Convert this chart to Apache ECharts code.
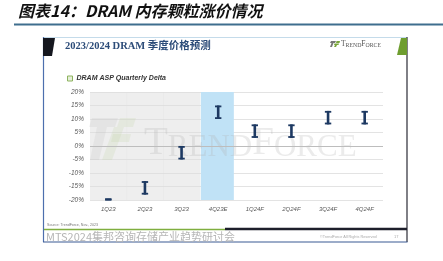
<!DOCTYPE html>
<html>
<head>
<meta charset="utf-8">
<script src="https://cdn.jsdelivr.net/npm/echarts@6/dist/echarts.min.js"></script>
<style>
  html, body { margin: 0; padding: 0; background: #fff; }
  #chart { width: 443px; height: 261px; }
</style>
</head>
<body>
<div id="chart"></div>
<script>
// quarterly DRAM ASP change ranges (%)
const categories = ['1Q23', '2Q23', '3Q23', '4Q23E', '1Q24F', '2Q24F', '3Q24F', '4Q24F'];
const lowValues = [-20, -18, -5, 10, 3, 3, 8, 8];
const highValues = [-19.6, -13, 0, 15, 8, 8, 13, 13];
const yTicks = [-20, -15, -10, -5, 0, 5, 10, 15, 20];

const seriesName = 'DRAM ASP Quarterly Delta';
const markColor = '#1d3962';

const chart = echarts.init(document.getElementById('chart'), null, { renderer: 'canvas' });

// shaded columns: actuals grey, estimate blue, forecasts left white
function renderBand(params, api) {
  const cat = categories[params.dataIndex];
  const bw = api.size([1, 0])[0];
  const cx = api.coord([api.value(0), 0])[0];
  const top = api.coord([api.value(0), yTicks[yTicks.length - 1]])[1];
  const bottom = api.coord([api.value(0), yTicks[0]])[1];
  if (cat.endsWith('F')) return null;
  if (cat.endsWith('E')) {
    return {
      type: 'rect',
      shape: { x: cx - bw / 2 + 1, y: top, width: bw * 0.9, height: bottom - top },
      style: { fill: '#c0e2f6' }
    };
  }
  return {
    type: 'rect',
    shape: { x: cx - bw / 2, y: top, width: bw + 0.5, height: bottom - top },
    style: { fill: 'rgba(222,222,222,0.5)' }
  };
}

// serif "I" shaped range marks
function renderRange(params, api) {
  const x = api.value(0);
  const hi = api.coord([x, api.value(2)]);
  const lo = api.coord([x, api.value(1)]);
  const cap = 3.2;
  const line = (x1, y1, x2, y2, w) => ({
    type: 'line',
    shape: { x1, y1, x2, y2 },
    style: { stroke: markColor, lineWidth: w }
  });
  return {
    type: 'group',
    children: [
      line(hi[0], hi[1], lo[0], lo[1], 2.6),
      line(hi[0] - cap, hi[1] + 0.9, hi[0] + cap, hi[1] + 0.9, 1.8),
      line(lo[0] - cap, lo[1] - 0.9, lo[0] + cap, lo[1] - 0.9, 1.8)
    ]
  };
}

const smallCaps = (b, s) => ({
  b: { fontSize: b, fontFamily: 'Liberation Serif', verticalAlign: 'bottom', lineHeight: b },
  s: { fontSize: s, fontFamily: 'Liberation Serif', verticalAlign: 'bottom', lineHeight: b }
});

const option = {
  backgroundColor: '#fff',
  animation: false,
  grid: { left: 90, right: 60, top: 92, bottom: 61 },
  legend: {
    left: 62,
    top: 70,
    itemWidth: 5,
    itemHeight: 5,
    itemGap: 4,
    data: [{
      name: seriesName,
      icon: 'rect',
      itemStyle: { color: '#e6efd9', borderColor: '#8db35f', borderWidth: 1 }
    }],
    textStyle: {
      fontSize: 7,
      fontStyle: 'italic',
      fontWeight: 'bold',
      color: '#333',
      fontFamily: 'Liberation Sans',
      padding: [0, 0, 0, -1]
    }
  },
  xAxis: {
    type: 'category',
    data: categories,
    axisLine: { show: false },
    axisTick: { show: false },
    axisLabel: {
      margin: 6,
      fontSize: 6,
      fontStyle: 'italic',
      color: '#595959',
      fontFamily: 'Liberation Sans'
    }
  },
  yAxis: {
    type: 'value',
    min: yTicks[0],
    max: yTicks[yTicks.length - 1],
    interval: yTicks[1] - yTicks[0],
    axisLine: { show: false },
    axisTick: { show: false },
    axisLabel: {
      margin: 6,
      fontSize: 6.5,
      fontStyle: 'italic',
      color: '#595959',
      fontFamily: 'Liberation Sans',
      formatter: '{value}%'
    },
    splitLine: { lineStyle: { color: '#e3e3e3', width: 1 } }
  },
  series: [
    {
      type: 'custom',
      name: 'bands',
      z: 1,
      silent: true,
      renderItem: renderBand,
      encode: { x: 0 },
      data: categories.map((c, i) => [i])
    },
    {
      type: 'custom',
      name: seriesName,
      z: 5,
      renderItem: renderRange,
      encode: { x: 0, y: [1, 2] },
      data: categories.map((c, i) => [i, lowValues[i], highValues[i]]),
      markLine: {
        silent: true,
        symbol: 'none',
        label: { show: false },
        lineStyle: { color: '#bdbdbd', width: 1, type: 'solid' },
        data: [{ yAxis: 0 }]
      }
    }
  ],
  graphic: [
    // report caption
    {
      type: 'text', left: 18, top: 3,
      style: {
        text: '图表14：DRAM 内存颗粒涨价情况',
        font: 'italic bold 16px "Noto Sans CJK SC"',
        fill: '#111'
      }
    },
    {
      type: 'line', shape: { x1: 14, y1: 24.5, x2: 443, y2: 24.5 },
      style: { stroke: '#3f6e8e', lineWidth: 2 }
    },
    // slide frame
    { type: 'line', shape: { x1: 43, y1: 37.5, x2: 407, y2: 37.5 }, style: { stroke: '#c4dbea', lineWidth: 1 } },
    { type: 'line', shape: { x1: 43.5, y1: 37, x2: 43.5, y2: 242 }, style: { stroke: '#4d6fae', lineWidth: 1.2 } },
    { type: 'line', shape: { x1: 407, y1: 37, x2: 407, y2: 242 }, style: { stroke: '#2a2a35', lineWidth: 1.2 } },
    { type: 'line', shape: { x1: 43, y1: 242, x2: 407.5, y2: 242 }, style: { stroke: '#3b5a94', lineWidth: 1.2 } },
    {
      type: 'polygon', shape: { points: [[43, 38], [55, 38], [52, 56], [43, 56]] },
      style: { fill: '#15171f' }
    },
    {
      type: 'polygon', shape: { points: [[401, 38], [407, 38], [407, 55], [397, 55]] },
      style: { fill: '#6e9d2f' }
    },
    {
      type: 'text', left: 65, top: 41.5,
      style: {
        text: '2023/2024 DRAM 季度价格预测',
        font: 'bold 10.5px "Liberation Serif", "Noto Sans CJK SC"',
        fill: '#2b4b78'
      }
    },
    // header logo
    { type: 'polygon', shape: { points: [[331, 41], [336, 41], [335, 43], [330, 43]] }, style: { fill: '#777' } },
    { type: 'polygon', shape: { points: [[331.5, 43], [333.5, 43], [332, 47], [330, 47]] }, style: { fill: '#777' } },
    { type: 'polygon', shape: { points: [[336.5, 41], [340, 41], [339.5, 43], [336, 43]] }, style: { fill: '#7aa53d' } },
    { type: 'polygon', shape: { points: [[334.5, 43.5], [339, 43.5], [338.5, 45], [334, 45]] }, style: { fill: '#7aa53d' } },
    { type: 'polygon', shape: { points: [[335, 45], [337, 45], [336, 47], [334, 47]] }, style: { fill: '#7aa53d' } },
    {
      type: 'text', left: 341, top: 40,
      style: { text: '{b|T}{s|REND}{b|F}{s|ORCE}', rich: smallCaps(7.5, 5.8), fill: '#555' }
    },
    // watermark
    {
      type: 'polygon', z: 2, silent: true,
      shape: { points: [[92, 118], [118, 118], [115, 127], [89, 127]] },
      style: { fill: 'rgba(170,170,170,0.14)' }
    },
    {
      type: 'polygon', z: 2, silent: true,
      shape: { points: [[97, 127], [107, 127], [99, 160], [90, 160]] },
      style: { fill: 'rgba(170,170,170,0.14)' }
    },
    {
      type: 'polygon', z: 2, silent: true,
      shape: { points: [[120, 118], [136, 118], [133, 127], [117, 127]] },
      style: { fill: 'rgba(190,210,160,0.2)' }
    },
    {
      type: 'polygon', z: 2, silent: true,
      shape: { points: [[113, 134], [131, 134], [129, 142], [111, 142]] },
      style: { fill: 'rgba(190,210,160,0.2)' }
    },
    {
      type: 'polygon', z: 2, silent: true,
      shape: { points: [[114, 127], [124, 127], [112, 160], [102, 160]] },
      style: { fill: 'rgba(190,210,160,0.2)' }
    },
    {
      type: 'text', z: 2, silent: true, left: 144, top: 124,
      style: { text: '{b|T}{s|REND}{b|F}{s|ORCE}', rich: smallCaps(39, 31), fill: 'rgba(175,175,175,0.25)' }
    },
    // footer
    {
      type: 'text', left: 47, top: 223,
      style: { text: 'Source: TrendForce, Nov., 2023', font: '3.6px "Liberation Sans"', fill: '#777' }
    },
    { type: 'line', shape: { x1: 44, y1: 229.5, x2: 225, y2: 229.5 }, style: { stroke: '#7fae3f', lineWidth: 1.6 } },
    { type: 'line', shape: { x1: 225, y1: 229, x2: 407, y2: 229 }, style: { stroke: '#1d1f2b', lineWidth: 2.5 } },
    {
      type: 'text', left: 46, top: 231,
      style: { text: 'MTS2024集邦咨询存储产业趋势研讨会', font: '11px "Noto Sans CJK SC"', fill: '#b6b6b6' }
    },
    {
      type: 'text', left: 320, top: 235,
      style: { text: '©TrendForce All Rights Reserved', font: '3.8px "Liberation Sans"', fill: '#aaa' }
    },
    {
      type: 'text', left: 394, top: 235,
      style: { text: '17', font: '4px "Liberation Sans"', fill: '#aaa' }
    }
  ]
};

chart.setOption(option);
</script>
</body>
</html>
